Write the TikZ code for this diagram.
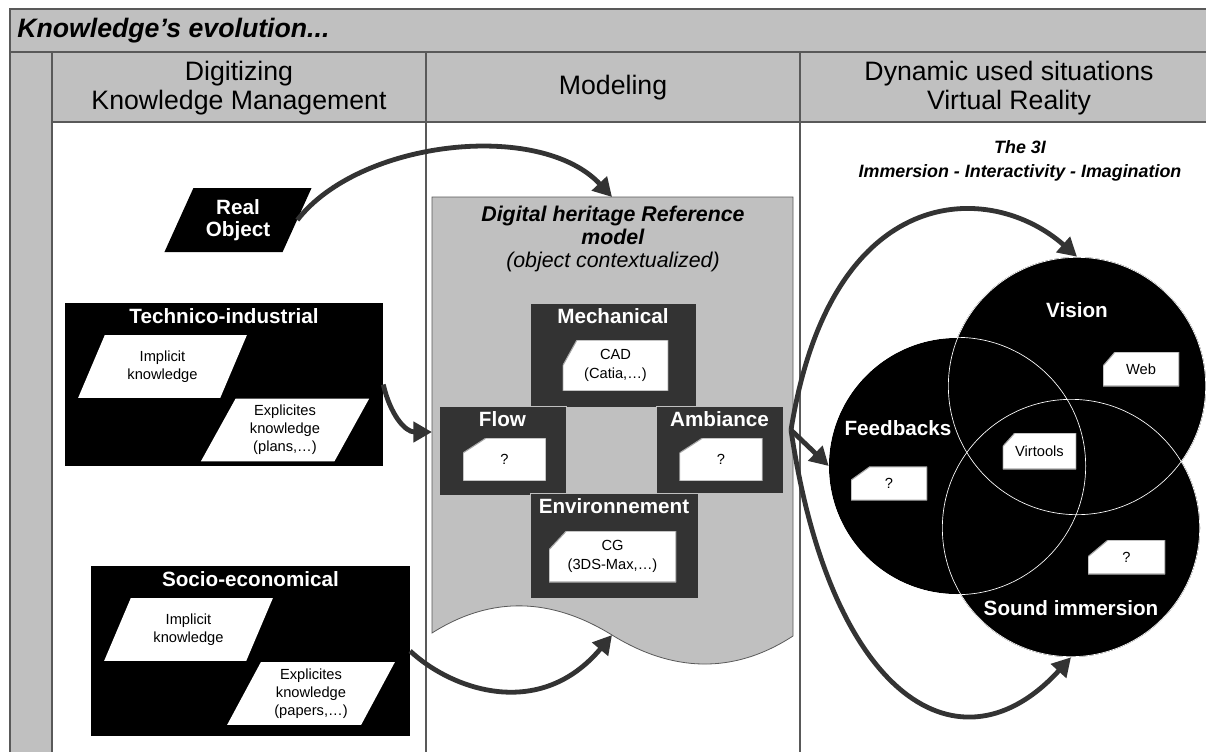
\documentclass[tikz,border=0pt]{standalone}
\usepackage{fontspec}
\setmainfont{Liberation Sans}
\usepackage{tikz}
\usetikzlibrary{arrows.meta}
\usetikzlibrary{positioning}
\usetikzlibrary{shapes.geometric}
\definecolor{panel}{HTML}{C0C0C0}
\definecolor{rule}{HTML}{595959}
\definecolor{dark}{HTML}{333333}

\begin{document}
\begin{tikzpicture}[x=0.75pt,y=-0.75pt,>={Triangle[length=14pt,width=15pt]}]
		\tikzstyle{cell}=[draw=rule,fill=panel,line width=1.1pt];
		\tikzstyle{head}=[font=\fontsize{20}{21.5}\selectfont,align=center];
		\tikzstyle{title}=[font=\fontsize{15.5}{17}\selectfont\bfseries,text=white,inner sep=4pt];
		\tikzstyle{plate}=[rectangle,fill=black,inner sep=0pt];
		\tikzstyle{parallel}=[trapezium,trapezium left angle=64,trapezium right angle=116,
			trapezium stretches=true,fill=white,minimum width=127pt,minimum height=47pt,
			inner sep=1pt,font=\fontsize{11}{13.5}\selectfont,align=center];
		\tikzstyle{facet}=[rectangle,fill=dark,draw=panel,line width=0.6pt,inner sep=0pt];
		% white label with its upper left corner cut off
		\tikzset{cut/.code 2 args={\def\cutx{#1}\def\cuty{#2}}};
		\tikzstyle{tag}=[rectangle,inner sep=1pt,font=\fontsize{11}{14.5}\selectfont,align=center,
			path picture={\path[fill=white,draw=gray!70,line width=0.8pt]
				([yshift=-\cuty]path picture bounding box.north west)
				--([xshift=\cutx]path picture bounding box.north west)
				--(path picture bounding box.north east)
				--(path picture bounding box.south east)
				--(path picture bounding box.south west)--cycle;}];
		\tikzstyle{sense}=[circle,fill=black,inner sep=0pt];
		\tikzstyle{link}=[->,draw=dark,line width=3.6pt];
		\useasboundingbox (0,0) rectangle (1206,751);

		% frame
		\draw[cell] (10,9) rectangle (1220,52);
		\draw[cell] (10,52) rectangle (52,760);
		\draw[cell] (52,52) rectangle (426,122);
		\draw[cell] (426,52) rectangle (800,122);
		\draw[cell] (800,52) rectangle (1220,122);
		\draw[draw=rule,line width=1.1pt] (426,122)--(426,760) (800,122)--(800,760);
		\node[font=\fontsize{20}{22}\selectfont\bfseries\itshape,anchor=west,inner sep=0pt](ttl)
			at (17,31){Knowledge’s evolution...};
		\node[head](h1) at (239,88){Digitizing\\Knowledge Management};
		\node[head](h2) at (613,88){Modeling};
		\node[head](h3) at (1009,88){Dynamic used situations\\Virtual Reality};

		% knowledge sources
		\node[parallel,fill=black,text=white,font=\fontsize{15.5}{17}\selectfont\bfseries,
			minimum width=111pt,minimum height=48pt](real) at (238,220){Real\\Object};
		\node[plate,minimum width=238.5pt,minimum height=122pt](tech) at (224,384.5){};
		\node[title,below=0pt of tech.north](techT){Technico-industrial};
		\node[parallel](timp) at (162.5,366.5){Implicit\\knowledge};
		\node[parallel](texp) at (285,430){Explicites\\knowledge\\(plans,…)};
		\node[plate,minimum width=239pt,minimum height=127.5pt](socio) at (250.5,651){};
		\node[title,below=0pt of socio.north](socioT){Socio-economical};
		\node[parallel](simp) at (188.5,629.5){Implicit\\knowledge};
		\node[parallel](sexp) at (311,693.5){Explicites\\knowledge\\(papers,…)};

		% reference model
		\draw[draw=rule,fill=panel,line width=0.6pt] (432,197)--(793,197)--(793,636)
			.. controls (733,675) and (672,672) .. (612,635)
			.. controls (552,598) and (492,595) .. (432,633)--cycle;
		\coordinate(doctop) at (612,197);
		\coordinate(docwest) at (432,432);
		\coordinate(docbot) at (612,635);
		\coordinate(fork) at (791,430);
		\node[font=\fontsize{16}{17.6}\selectfont,align=center](docT) at (613,239)
			{\textbf{\textit{Digital heritage Reference}}\\\textbf{\textit{model}}\\\textit{(object contextualized)}};
		\node[facet,minimum width=124.5pt,minimum height=78pt](mech) at (613,355){};
		\node[title,below=0pt of mech.north](mechT){Mechanical};
		\node[tag,cut={10.5pt}{19pt},minimum width=79pt,minimum height=38pt](cad) at (615.5,365.5){CAD\\(Catia,…)};
		\node[facet,minimum width=95.25pt,minimum height=66.75pt](flow) at (502.5,450.5){};
		\node[title,below=0pt of flow.north](flowT){Flow};
		\node[tag,cut={17pt}{11pt},minimum width=62pt,minimum height=32pt](flowq) at (504.5,459.5){?};
		\node[facet,minimum width=95.25pt,minimum height=65.25pt](amb) at (719.5,449.5){};
		\node[title,below=0pt of amb.north](ambT){Ambiance};
		\node[tag,cut={17pt}{11pt},minimum width=62pt,minimum height=32pt](ambq) at (721,459.5){?};
		\node[facet,minimum width=126pt,minimum height=78.75pt](env) at (614,545.5){};
		\node[title,below=0pt of env.north](envT){Environnement};
		\node[tag,cut={13pt}{14pt},minimum width=95.25pt,minimum height=38.25pt](cg) at (612.5,556.5){CG\\(3DS-Max,…)};

		% the 3I
		\node[font=\fontsize{13.4}{18}\selectfont\bfseries\itshape,align=center](three) at (1020,161)
			{The 3I\\Immersion - Interactivity - Imagination};
		\node[sense,minimum size=193.5pt](vis) at (1077,386){};
		\node[sense,minimum size=192pt](feed) at (957,466){};
		\node[sense,minimum size=193.5pt](snd) at (1071,528){};
		\foreach \c in {vis,feed,snd}
			\draw[white,line width=0.5pt] (\c.center) circle[radius=96.5pt];
		\node[title](visT) at (1077,310){Vision};
		\node[title](feedT) at (898,428){Feedbacks};
		\node[title](sndT) at (1071,608){Sound immersion};
		\node[tag,cut={9pt}{10.5pt},minimum width=57pt,minimum height=25.5pt](web) at (1141,369){Web};
		\node[tag,cut={9pt}{10pt},minimum width=55pt,minimum height=27pt](virt) at (1039.5,451){Virtools};
		\node[tag,cut={14pt}{10pt},minimum width=57pt,minimum height=25pt](feedq) at (889,483.5){?};
		\node[tag,cut={15pt}{12.5pt},minimum width=57.75pt,minimum height=25.5pt](sndq) at (1126.5,557){?};

		% flows
		\draw[link](real.east) .. controls +(62,-80) and +(-72,-77) .. (doctop);
		\draw[link](tech.east) .. controls +(7,30) and +(-27,0) .. (docwest);
		\draw[link](socio.east) .. controls +(42,39) and +(-72,86) .. (docbot);
		\draw[link](fork) .. controls +(40,-250) and +(-87,-77) .. (vis.north);
		\draw[link](fork)--(feed.west);
		\draw[link](fork) .. controls +(40,270) and +(-110,121) .. (snd.south);
\end{tikzpicture}
\end{document}
